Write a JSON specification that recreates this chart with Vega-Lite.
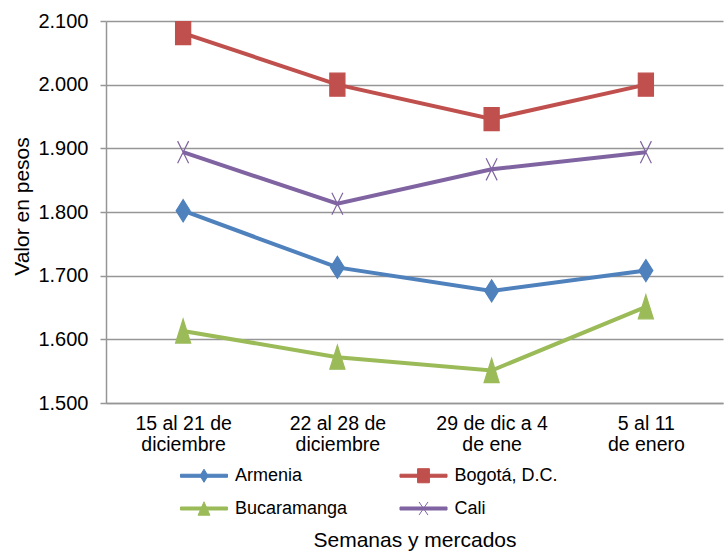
{
  "$schema": "https://vega.github.io/schema/vega-lite/v6.json",
  "width": 617,
  "height": 382,
  "autosize": {"type": "none"},
  "padding": {"left": 106, "top": 21, "right": 3, "bottom": 149},
  "background": "white",
  "config": {"view": {"stroke": null}, "font": "Liberation Sans"},
  "data": {"values": [
    {"week": "15 al 21 de diciembre", "series": "Armenia", "value": 1802},
    {"week": "22 al 28 de diciembre", "series": "Armenia", "value": 1713},
    {"week": "29 de dic a 4 de ene", "series": "Armenia", "value": 1676},
    {"week": "5 al 11 de enero", "series": "Armenia", "value": 1708},
    {"week": "15 al 21 de diciembre", "series": "Bogotá, D.C.", "value": 2081},
    {"week": "22 al 28 de diciembre", "series": "Bogotá, D.C.", "value": 2000},
    {"week": "29 de dic a 4 de ene", "series": "Bogotá, D.C.", "value": 1946},
    {"week": "5 al 11 de enero", "series": "Bogotá, D.C.", "value": 2000},
    {"week": "15 al 21 de diciembre", "series": "Bucaramanga", "value": 1613},
    {"week": "22 al 28 de diciembre", "series": "Bucaramanga", "value": 1572},
    {"week": "29 de dic a 4 de ene", "series": "Bucaramanga", "value": 1551},
    {"week": "5 al 11 de enero", "series": "Bucaramanga", "value": 1651},
    {"week": "15 al 21 de diciembre", "series": "Cali", "value": 1894},
    {"week": "22 al 28 de diciembre", "series": "Cali", "value": 1813},
    {"week": "29 de dic a 4 de ene", "series": "Cali", "value": 1867},
    {"week": "5 al 11 de enero", "series": "Cali", "value": 1894}
  ]},
  "encoding": {
    "x": {
      "field": "week", "type": "ordinal", "sort": null,
      "scale": {"type": "point", "padding": 0.5},
      "axis": {
        "title": "Semanas y mercados",
        "titleY": 143, "titleBaseline": "alphabetic",
        "titleFontSize": 21, "titleFontWeight": "normal", "titleColor": "#000000",
        "labelAngle": 0, "labelFontSize": 19.5, "labelColor": "#000000",
        "labelLineHeight": 21, "labelBaseline": "top", "labelPadding": 11,
        "ticks": false, "grid": false,
        "domainColor": "#969696", "domainWidth": 1.5,
        "labelExpr": "datum.value == '15 al 21 de diciembre' ? ['15 al 21 de', 'diciembre'] : datum.value == '22 al 28 de diciembre' ? ['22 al 28 de', 'diciembre'] : datum.value == '29 de dic a 4 de ene' ? ['29 de dic a 4', 'de ene'] : ['5 al 11', 'de enero']"
      }
    },
    "y": {
      "field": "value", "type": "quantitative",
      "scale": {"domain": [1500, 2100], "nice": false, "zero": false},
      "axis": {
        "values": [1500, 1600, 1700, 1800, 1900, 2000, 2100],
        "labelExpr": "replace(format(datum.value, ','), ',', '.')",
        "title": "Valor en pesos",
        "titleX": -77.5, "titleY": 185, "titleAngle": -90,
        "titleAlign": "center", "titleBaseline": "alphabetic",
        "titleFontSize": 21, "titleFontWeight": "normal", "titleColor": "#000000",
        "grid": true, "gridColor": "#969696", "gridWidth": 1.5,
        "tickColor": "#969696", "tickSize": 6, "tickWidth": 1.5,
        "domainColor": "#969696", "domainWidth": 1.5,
        "labelFontSize": 20, "labelPadding": 12, "labelColor": "#000000"
      }
    }
  },
  "layer": [
    {
      "layer": [
        {
          "mark": {"type": "line", "strokeWidth": 4},
          "encoding": {
            "color": {"field": "series", "type": "nominal",
              "scale": {"domain": ["Armenia", "Bogotá, D.C.", "Bucaramanga", "Cali"], "range": ["#4F81BD", "#C0504D", "#9BBB59", "#8064A2"]},
              "legend": null}
          }
        },
        {
          "mark": {"type": "point", "filled": true, "opacity": 1, "size": 576, "strokeWidth": 1.2},
          "encoding": {
            "color": {"field": "series", "type": "nominal",
              "scale": {"domain": ["Armenia", "Bogotá, D.C.", "Bucaramanga", "Cali"], "range": ["#4F81BD", "#C0504D", "#9BBB59", "#8064A2"]},
              "legend": null},
            "stroke": {"field": "series", "type": "nominal",
              "scale": {"domain": ["Armenia", "Bogotá, D.C.", "Bucaramanga", "Cali"], "range": ["#4F81BD", "#C0504D", "#9BBB59", "#8064A2"]},
              "legend": null},
            "shape": {"field": "series", "type": "nominal",
              "scale": {"domain": ["Armenia", "Bogotá, D.C.", "Bucaramanga", "Cali"], "range": [
                "M0,-0.92L0.58,0L0,0.92L-0.58,0Z",
                "M-0.63,-0.96L0.63,-0.96L0.63,0.96L-0.63,0.96Z",
                "M0,-1L0.63,1L-0.63,1Z",
                "M-0.46,-0.92L0.46,0.92M0.46,-0.92L-0.46,0.92"
              ]},
              "legend": null}
          }
        }
      ]
    },
    {
      "mark": {"type": "point", "filled": true, "opacity": 0, "size": 1024, "strokeWidth": 1},
      "encoding": {
        "color": {"field": "series", "type": "nominal",
          "scale": {"domain": ["Armenia", "Bogotá, D.C.", "Bucaramanga", "Cali"], "range": ["#4F81BD", "#C0504D", "#9BBB59", "#8064A2"]},
          "legend": {"title": null, "orient": "none", "legendX": 81.5, "legendY": 438, "direction": "horizontal", "columns": 2,
            "symbolSize": 1024, "symbolStrokeWidth": 1, "symbolOpacity": 1, "labelFont": "Liberation Sans", "labelFontSize": 18,
            "labelColor": "#000000", "labelOffset": 14.5, "columnPadding": 49.5, "rowPadding": 7, "padding": 0, "labelLimit": 0}},
        "stroke": {"field": "series", "type": "nominal",
          "scale": {"domain": ["Armenia", "Bogotá, D.C.", "Bucaramanga", "Cali"], "range": ["#4F81BD", "#C0504D", "#9BBB59", "#8064A2"]},
          "legend": {"title": null, "orient": "none", "legendX": 81.5, "legendY": 438, "direction": "horizontal", "columns": 2,
            "symbolSize": 1024, "symbolStrokeWidth": 1, "symbolOpacity": 1, "labelFont": "Liberation Sans", "labelFontSize": 18,
            "labelColor": "#000000", "labelOffset": 14.5, "columnPadding": 49.5, "rowPadding": 7, "padding": 0, "labelLimit": 0}},
        "shape": {"field": "series", "type": "nominal",
          "scale": {"domain": ["Armenia", "Bogotá, D.C.", "Bucaramanga", "Cali"], "range": [
            "M-1.47,-0.094L1.47,-0.094L1.47,0.094L-1.47,0.094Z M0,-0.41L0.25,0L0,0.41L-0.25,0Z",
            "M-1.47,-0.094L1.47,-0.094L1.47,0.094L-1.47,0.094Z M-0.37,-0.44L0.37,-0.44L0.37,0.44L-0.37,0.44Z",
            "M-1.47,-0.094L1.47,-0.094L1.47,0.094L-1.47,0.094Z M0,-0.42L0.37,0.42L-0.37,0.42Z",
            "M-1.47,-0.094L1.47,-0.094L1.47,0.094L-1.47,0.094Z M-0.28,-0.41L0.28,0.41M0.28,-0.41L-0.28,0.41"
          ]},
          "legend": {"title": null, "orient": "none", "legendX": 81.5, "legendY": 438, "direction": "horizontal", "columns": 2,
            "symbolSize": 1024, "symbolStrokeWidth": 1, "symbolOpacity": 1, "labelFont": "Liberation Sans", "labelFontSize": 18,
            "labelColor": "#000000", "labelOffset": 14.5, "columnPadding": 49.5, "rowPadding": 7, "padding": 0, "labelLimit": 0}}
      }
    }
  ],
  "resolve": {"scale": {"color": "independent", "stroke": "independent", "shape": "independent"}}
}
